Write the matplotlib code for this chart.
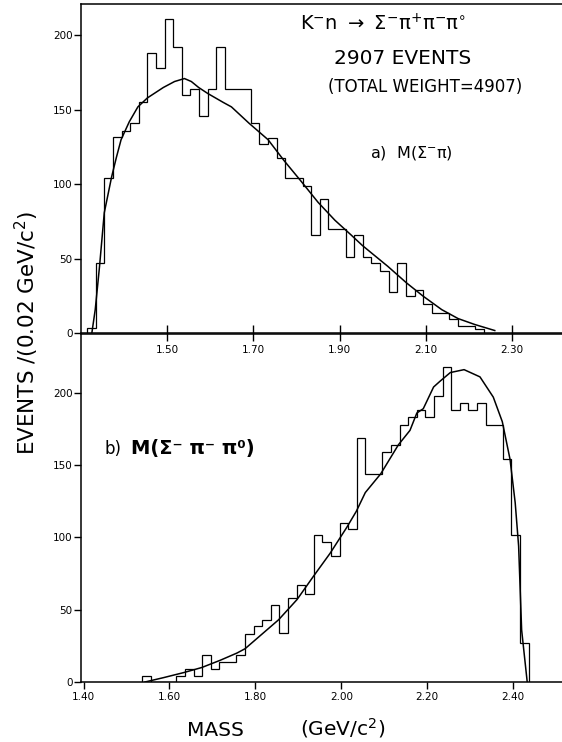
import numpy as np
import matplotlib
matplotlib.use("Agg")
import matplotlib.pyplot as plt

plt.rcParams['font.family'] = ['DejaVu Sans']
plt.rcParams['mathtext.fontset'] = 'dejavusans'

# a) M(Sigma- pi) histogram, bins of 0.02 GeV
bin_width = 0.02
top_start = 1.314
top_counts = [4, 47, 104, 132, 136, 141, 155, 188, 178, 211, 192, 160, 164, 146,
              164, 192, 164, 164, 164, 141, 127, 131, 118, 104, 104, 99, 66, 90,
              70, 70, 51, 66, 51, 47, 42, 28, 47, 25, 29, 20, 14, 14, 10, 5, 5, 3]
# phase space curve for a)
top_curve_m = [1.325, 1.333, 1.343, 1.354, 1.371, 1.382, 1.393, 1.412, 1.432, 1.454,
               1.491, 1.517, 1.540, 1.556, 1.573, 1.594, 1.630, 1.649, 1.690, 1.734,
               1.771, 1.811, 1.850, 1.889, 1.927, 1.953, 1.974, 2.012, 2.055, 2.094,
               2.137, 2.175, 2.214, 2.260]
top_curve_v = [0, 16, 45, 81, 105, 118, 130, 142, 152, 158, 165, 169, 171, 169, 165,
               161, 155, 152, 141, 130, 116, 102, 88, 76, 66, 59, 54, 45, 34, 25, 16,
               10, 6, 2]

# b) M(Sigma- pi- pi0) histogram
bot_start = 1.536
bot_counts = [4, 0, 0, 0, 4, 9, 4, 19, 9, 14, 14, 19, 33, 39, 43, 53, 34, 58, 67, 61,
              102, 97, 87, 110, 106, 169, 144, 144, 159, 164, 178, 183, 188, 183, 198,
              218, 188, 193, 188, 193, 178, 178, 154, 102, 27]
bot_curve_m = [1.543, 1.586, 1.633, 1.675, 1.718, 1.757, 1.776, 1.815, 1.854, 1.897,
               1.935, 1.974, 2.013, 2.035, 2.056, 2.092, 2.133, 2.160, 2.176, 2.191,
               2.215, 2.230, 2.254, 2.286, 2.323, 2.354, 2.375, 2.393, 2.405, 2.413,
               2.420, 2.433]
bot_curve_v = [0, 3, 6.5, 10, 15, 20, 23, 33, 43, 57, 73, 89, 107, 118, 131, 144, 164,
               174, 186, 189, 204, 208, 214, 216, 211, 197, 180, 154, 124, 94, 36, 0]

top_xticks = [1.50, 1.70, 1.90, 2.10, 2.30]
bot_xticks = [1.40, 1.60, 1.80, 2.00, 2.20, 2.40]
yticks = [0, 50, 100, 150, 200]

W, H = 562, 742
fig = plt.figure(figsize=(W / 100, H / 100), dpi=100)


def box(l, t, r, b):
    return [l / W, 1 - b / H, (r - l) / W, (b - t) / H]


ax2 = fig.add_axes(box(81, 333.5, 562, 682))
ax1 = fig.add_axes(box(81, 4, 562, 333.5))
ax2.patch.set_visible(False)
ax1.set_zorder(3)

top_edges = top_start + bin_width * np.arange(len(top_counts) + 1)
bot_edges = bot_start + bin_width * np.arange(len(bot_counts) + 1)

ax1.stairs(top_counts, top_edges, color='black', lw=0.9)
ax1.plot(top_curve_m, top_curve_v, color='black', lw=1.1)
ax2.stairs(bot_counts, bot_edges, color='black', lw=0.9)
ax2.plot(bot_curve_m, bot_curve_v, color='black', lw=1.1)

ax1.set_xlim(1.30, 2.416)
ax1.set_ylim(0, 221)
ax2.set_xlim(1.394, 2.514)
ax2.set_ylim(0, 241)

for ax in (ax1, ax2):
    ax.spines['right'].set_visible(False)
    for s in ('left', 'top', 'bottom'):
        ax.spines[s].set_linewidth(1.1)
    ax.set_yticks(yticks)
    ax.set_yticklabels([str(t) for t in yticks], fontsize=7.5)
    ax.tick_params(axis='y', direction='out', length=5, width=1, pad=1)

ax1.patch.set_alpha(0)
ax1.set_xticks(top_xticks)
ax1.set_xticklabels(["%.2f" % t for t in top_xticks], fontsize=7.5)
ax1.tick_params(axis='x', direction='inout', length=12, width=1, pad=2)
ax2.set_xticks(bot_xticks)
ax2.set_xticklabels(["%.2f" % t for t in bot_xticks], fontsize=7.5)
ax2.tick_params(axis='x', direction='out', length=5, width=1, pad=2)


def fx(x):
    return x / W


def fy(y):
    return 1 - y / H


fig.text(fx(383), fy(24), r"K$^{-}$n $\rightarrow$ Σ$^{-}$π$^{+}$π$^{-}$π$^{\circ}$",
         fontsize=14, ha='center', va='center')
fig.text(fx(403), fy(59), "2907 EVENTS", fontsize=14.5, ha='center', va='center')
fig.text(fx(425), fy(87), "(TOTAL WEIGHT=4907)", fontsize=12, ha='center', va='center')
fig.text(fx(411), fy(153), r"a)  M(Σ$^{-}$π)", fontsize=11.5, ha='center', va='center')
fig.text(fx(105), fy(449), "b)", fontsize=12, ha='left', va='center')
fig.text(fx(131), fy(449), "M(Σ⁻ π⁻ π⁰)", fontsize=14, fontweight='bold',
         ha='left', va='center')

fig.text(fx(27), fy(333), r"EVENTS /(0.02 GeV/c$^{2}$)", fontsize=15.5,
         rotation=90, ha='center', va='center')
fig.text(fx(215), fy(730), "MASS", fontsize=14.5, ha='center', va='center')
fig.text(fx(343), fy(728), r"(GeV/c$^{2}$)", fontsize=14.5, ha='center', va='center')

fig.savefig("out.png", dpi=100, facecolor='white')
